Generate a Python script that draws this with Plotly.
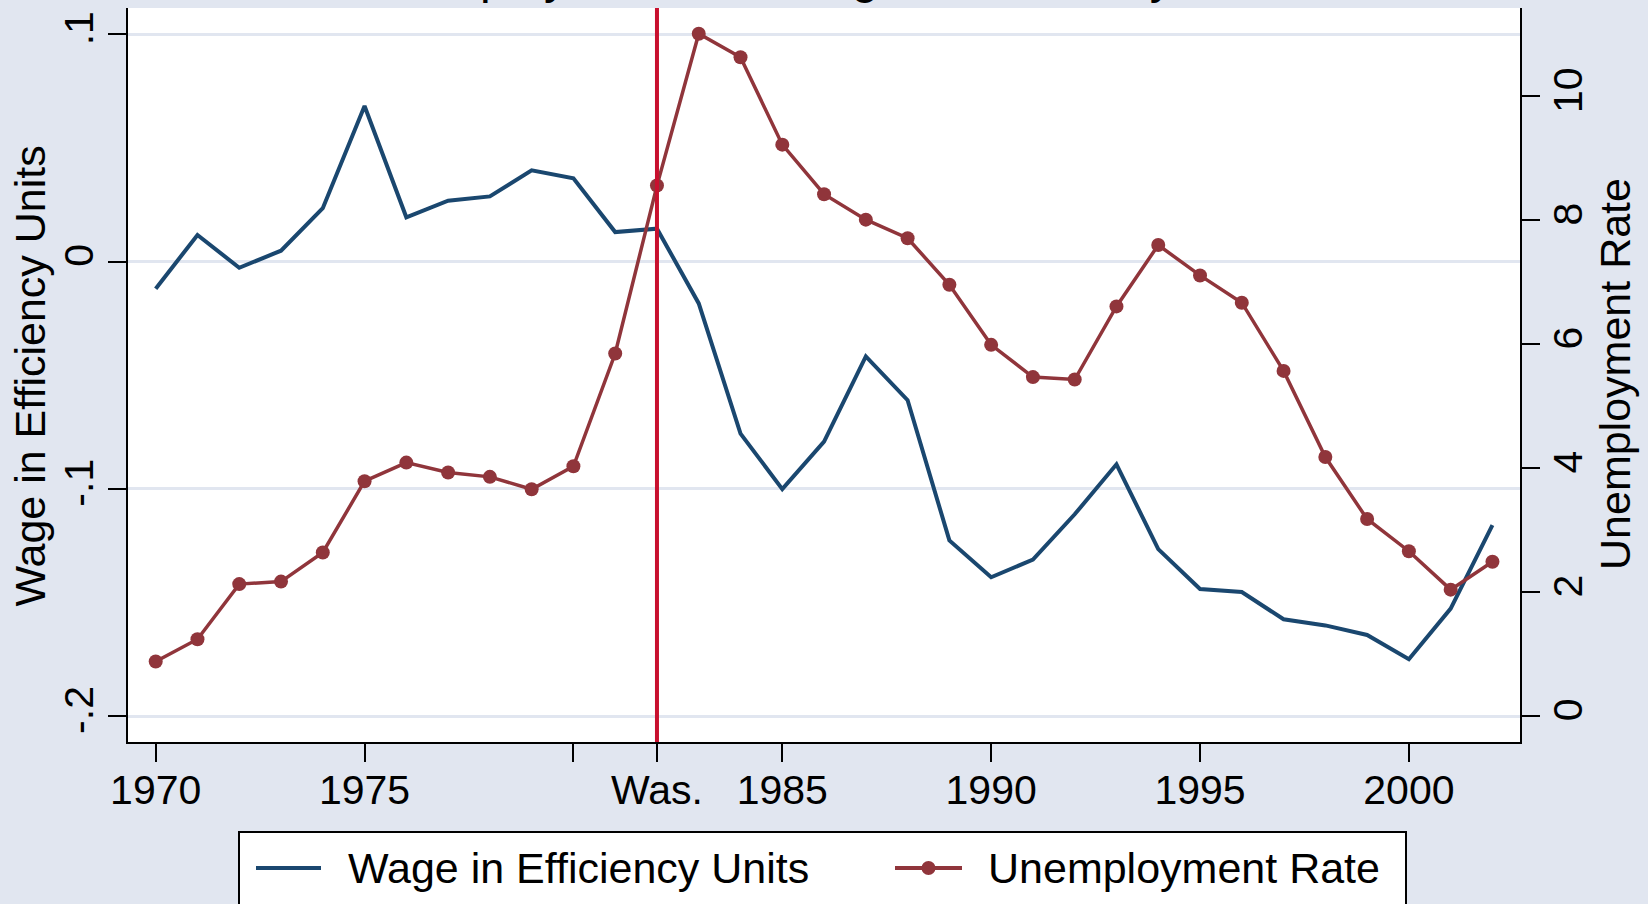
import plotly.graph_objects as go

years = list(range(1970, 2003))
wage = [-0.0119, 0.0117, -0.0027, 0.0048, 0.0235, 0.0685, 0.0195, 0.0268, 0.0287, 0.0402,
        0.0367, 0.0130, 0.0145, -0.0184, -0.0757, -0.1001, -0.0792, -0.0417, -0.0610, -0.1227,
        -0.1389, -0.1311, -0.1112, -0.0892, -0.1265, -0.1441, -0.1454, -0.1574, -0.1601, -0.1643,
        -0.1750, -0.1527, -0.1160]
unemp = [0.88, 1.24, 2.13, 2.17, 2.64, 3.79, 4.09, 3.93, 3.86, 3.66,
         4.03, 5.85, 8.56, 11.01, 10.63, 9.22, 8.42, 8.01, 7.71, 6.96,
         5.99, 5.47, 5.43, 6.61, 7.60, 7.11, 6.67, 5.57, 4.18, 3.18,
         2.66, 2.04, 2.49]
x_tickvals = [1970, 1975, 1980, 1982, 1985, 1990, 1995, 2000]
x_ticktext = ["1970", "1975", "", "Was.", "1985", "1990", "1995", "2000"]
y1_tickvals = [0.1, 0.0, -0.1, -0.2]
y1_ticktext = [".1", "0", "-.1", "-.2"]
y2_tickvals = [0, 2, 4, 6, 8, 10]
event_year = 1982
title_text = "Unemployment and Wage in Efficiency Units"
series_names = ["Wage in Efficiency Units", "Unemployment Rate"]
y1_title = "Wage in Efficiency Units"
y2_title = "Unemployment Rate"

BG = "#E1E6F0"
NAVY = "#1A476F"
MAROON = "#90353B"
FONT = "Arial, Liberation Sans, sans-serif"

W, H = 1648, 904
ML, MR, MT, MB = 128, 128, 8, 162
PW, PH = W - ML - MR, H - MT - MB


def px_x(p):
    return (p - ML) / PW


def px_y(p):
    return (H - MB - p) / PH


fig = go.Figure()
fig.add_trace(go.Scatter(x=years, y=wage, mode="lines", name=series_names[0],
                         line=dict(color=NAVY, width=4), yaxis="y"))
fig.add_trace(go.Scatter(x=years, y=unemp, mode="lines+markers", name=series_names[1],
                         line=dict(color=MAROON, width=3.5),
                         marker=dict(color=MAROON, size=14), yaxis="y2"))

fig.add_shape(type="line", xref="x", yref="paper", x0=event_year, x1=event_year, y0=0, y1=1,
              line=dict(color="#C8102E", width=4), layer="above")

# title (cut off at top edge, as in the original)
fig.add_annotation(text=title_text, xref="paper", yref="paper", x=0.5, y=1, yanchor="bottom",
                   yshift=3, showarrow=False, font=dict(family=FONT, size=48, color="black"))

# axis titles
fig.add_annotation(text=y1_title, xref="paper", yref="paper", x=px_x(29.5), y=px_y(376),
                   xanchor="center", yanchor="middle", textangle=-90, showarrow=False,
                   font=dict(family=FONT, size=43, color="black"))
fig.add_annotation(text=y2_title, xref="paper", yref="paper", x=px_x(1615), y=px_y(374),
                   xanchor="center", yanchor="middle", textangle=-90, showarrow=False,
                   font=dict(family=FONT, size=43, color="black"))

# legend (drawn as a boxed key below the plot)
fig.add_shape(type="rect", xref="paper", yref="paper", x0=px_x(239), x1=px_x(1406),
              y0=px_y(925), y1=px_y(832), line=dict(color="black", width=2),
              fillcolor="white", layer="above")
ly = px_y(868)
fig.add_shape(type="line", xref="paper", yref="paper", x0=px_x(256), x1=px_x(321), y0=ly, y1=ly,
              line=dict(color=NAVY, width=4), layer="above")
fig.add_shape(type="line", xref="paper", yref="paper", x0=px_x(895), x1=px_x(962), y0=ly, y1=ly,
              line=dict(color=MAROON, width=4), layer="above")
fig.add_shape(type="circle", xref="paper", yref="paper", xsizemode="pixel", ysizemode="pixel",
              xanchor=px_x(928.5), yanchor=ly, x0=-7, x1=7, y0=-7, y1=7,
              line=dict(width=0), fillcolor=MAROON, layer="above")
fig.add_annotation(text=series_names[0], xref="paper", yref="paper", x=px_x(346), y=ly,
                   xanchor="left", yanchor="middle", showarrow=False,
                   font=dict(family=FONT, size=43, color="black"))
fig.add_annotation(text=series_names[1], xref="paper", yref="paper", x=px_x(986), y=ly,
                   xanchor="left", yanchor="middle", showarrow=False,
                   font=dict(family=FONT, size=43, color="black"))

axis_common = dict(showline=True, linecolor="black", linewidth=2, ticks="outside",
                   ticklen=18, tickwidth=2, tickcolor="black", zeroline=False, automargin=False,
                   tickfont=dict(family=FONT, size=41, color="black"))

fig.update_layout(
    width=W, height=H,
    paper_bgcolor=BG, plot_bgcolor="white",
    margin=dict(l=ML, r=MR, t=MT, b=MB, autoexpand=False),
    font=dict(family=FONT, color="black"),
    showlegend=False,
    xaxis=dict(range=[1969.337, 2002.66], tickvals=x_tickvals, ticktext=x_ticktext,
               showgrid=False, ticklabelstandoff=-7, **axis_common),
    yaxis=dict(range=[-0.2114, 0.1116], tickvals=y1_tickvals, ticktext=y1_ticktext,
               tickangle=-90, showgrid=True, gridcolor=BG, gridwidth=3,
               ticklabelstandoff=-1, **axis_common),
    yaxis2=dict(range=[-0.418, 11.425], tickvals=y2_tickvals, overlaying="y", side="right",
                tickangle=-90, showgrid=False, ticklabelstandoff=-7, **axis_common),
)

fig.write_html("out.html", config={"displayModeBar": False},
               post_script="document.body.style.margin='0';document.body.style.overflow='hidden';")
